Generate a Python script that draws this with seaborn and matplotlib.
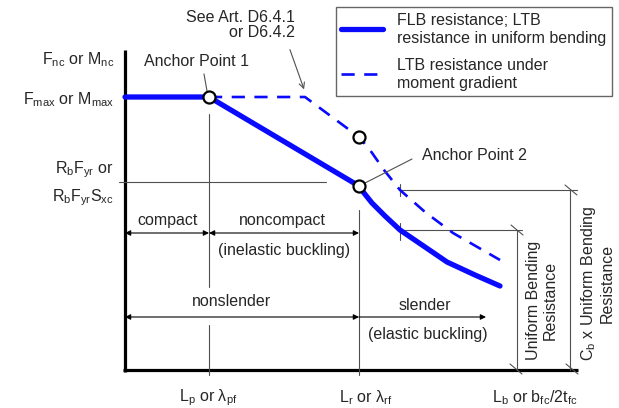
import numpy as np
import pandas as pd
import seaborn as sns
import matplotlib.pyplot as plt

# ==========================================
# DATA (schematic, in pixel-like units: x right, y down)
# ==========================================
# solid curve: FLB / LTB resistance in uniform bending
solid_x = [125, 209, 359, 364, 372, 385, 400, 425, 447, 475, 500]
solid_y = [97, 97, 186, 193, 203, 216, 230, 247, 262, 275, 286]

# dashed curve: LTB resistance under moment gradient
dashed_x = [209, 305, 359, 370, 384, 400, 425, 453, 500]
dashed_y = [97, 97, 137, 150, 170, 190, 212, 233, 260]

# anchor circles
anchor_x = [209, 359, 359]
anchor_y = [97, 186, 137]

legend_labels = ["FLB resistance; LTB\nresistance in uniform bending",
                 "LTB resistance under\nmoment gradient"]

y_labels = [r"F$_\mathregular{nc}$ or M$_\mathregular{nc}$",
            r"F$_\mathregular{max}$ or M$_\mathregular{max}$",
            r"R$_\mathregular{b}$F$_\mathregular{yr}$ or",
            r"R$_\mathregular{b}$F$_\mathregular{yr}$S$_\mathregular{xc}$"]
y_label_pos = [60, 100, 170, 198]

x_labels = [r"L$_\mathregular{p}$ or λ$_\mathregular{pf}$",
            r"L$_\mathregular{r}$ or λ$_\mathregular{rf}$",
            r"L$_\mathregular{b}$ or b$_\mathregular{fc}$/2t$_\mathregular{fc}$"]
x_label_pos = [208, 366, 535]

blue = "#0a0aff"
thin = "#505050"

# ==========================================
# STYLE
# ==========================================
sns.set_style("white")
plt.rcParams["font.family"] = ["Liberation Sans", "DejaVu Sans"]
plt.rcParams["mathtext.fontset"] = "custom"
plt.rcParams["mathtext.rm"] = "Liberation Sans"
plt.rcParams["mathtext.it"] = "Liberation Sans:italic"
fs = 11.5

fig = plt.figure(figsize=(6.19, 4.08), dpi=100)
ax = fig.add_axes([0, 0, 1, 1])
ax.set_xlim(0, 619)
ax.set_ylim(408, 0)
ax.axis("off")

# ==========================================
# AXES LINES
# ==========================================
ax.plot([125, 125], [50, 372], color="black", lw=2.3, solid_capstyle="butt")
ax.plot([123, 578], [370, 370], color="black", lw=2.3, solid_capstyle="butt")

# thin reference lines
ax.plot([119, 326], [182, 182], color=thin, lw=0.8)
ax.plot([209, 209], [114, 287], color=thin, lw=0.8)
ax.plot([209, 209], [325, 375], color=thin, lw=0.8)
ax.plot([359, 359], [210, 375], color=thin, lw=0.8)

# dimension lines on the right
ax.plot([400, 522], [230, 230], color=thin, lw=0.8)
ax.plot([400, 577], [190, 190], color=thin, lw=0.8)
ax.plot([517, 517], [230, 370], color=thin, lw=0.8)
ax.plot([570, 570], [190, 370], color=thin, lw=0.8)
for (cx, cy) in [(517, 230), (516, 369), (571, 190), (572, 369)]:
    ax.plot([cx - 6, cx + 6], [cy - 5, cy + 5], color=thin, lw=0.8)
ax.plot([400, 400], [184, 196], color=thin, lw=0.8)
ax.plot([400, 400], [223, 240], color=thin, lw=0.8)

# ==========================================
# CURVES
# ==========================================
df_solid = pd.DataFrame({"x": solid_x, "y": solid_y})
df_dash = pd.DataFrame({"x": dashed_x, "y": dashed_y})

sns.lineplot(data=df_solid, x="x", y="y", ax=ax, color=blue, lw=3.8,
             sort=False, estimator=None, label=legend_labels[0])
sns.lineplot(data=df_dash, x="x", y="y", ax=ax, color=blue, lw=1.9,
             sort=False, estimator=None, linestyle=(0, (5, 3.6)),
             label=legend_labels[1])
sns.scatterplot(x=anchor_x, y=anchor_y, ax=ax, s=75, color="white",
                edgecolor="black", linewidth=1.6, zorder=5)

curve_lines = [l for l in ax.lines if l.get_label() in legend_labels]
leg = ax.legend(handles=curve_lines, labels=legend_labels, loc="upper right",
                bbox_to_anchor=(612, 7), bbox_transform=ax.transData,
                fontsize=fs, frameon=True, fancybox=False, edgecolor="#666666",
                framealpha=1, handlelength=2.6, handletextpad=0.9,
                labelspacing=0.75, borderpad=0.35, borderaxespad=0)
for t in leg.get_texts():
    t.set_linespacing(1.25)

# ==========================================
# TEXT
# ==========================================
for lab, yy in zip(y_labels, y_label_pos):
    ax.text(114, yy, lab, ha="right", va="center", fontsize=fs)
for lab, xx in zip(x_labels, x_label_pos):
    ax.text(xx, 398, lab, ha="center", va="center", fontsize=fs)

ax.text(197, 62, "Anchor Point 1", ha="center", va="center", fontsize=fs)
ax.plot([204, 207], [74, 91], color=thin, lw=0.8)
ax.text(474, 155, "Anchor Point 2", ha="center", va="center", fontsize=fs)
ax.plot([412, 365], [159, 183], color=thin, lw=0.8)

ax.text(295, 25, "See Art. D6.4.1\nor D6.4.2", ha="right", va="center",
        fontsize=fs, linespacing=0.95)
ax.annotate("", xy=(305, 92), xytext=(289, 47),
            arrowprops=dict(arrowstyle="->", color=thin, lw=0.8))

# region arrows
arr = dict(arrowstyle="<|-|>", color="black", lw=0.8, mutation_scale=8,
           shrinkA=0, shrinkB=0)
ax.annotate("", xy=(125, 233), xytext=(209, 233), arrowprops=arr)
ax.annotate("", xy=(209, 233), xytext=(359, 233), arrowprops=arr)
ax.annotate("", xy=(125, 317), xytext=(359, 317), arrowprops=arr)
ax.annotate("", xy=(486, 317), xytext=(359, 317),
            arrowprops=dict(arr, arrowstyle="-|>"))

ax.text(168, 220, "compact", ha="center", va="center", fontsize=fs)
ax.text(282, 220, "noncompact", ha="center", va="center", fontsize=fs)
ax.text(284, 250, "(inelastic buckling)", ha="center", va="center", fontsize=fs)
ax.text(231, 302, "nonslender", ha="center", va="center", fontsize=fs)
ax.text(425, 305, "slender", ha="center", va="center", fontsize=fs)
ax.text(428, 335, "(elastic buckling)", ha="center", va="center", fontsize=fs)

ax.text(542, 300, "Uniform Bending\nResistance", rotation=90, ha="center",
        va="center", fontsize=fs, multialignment="center", linespacing=1.1)
ax.text(597, 283, r"C$_\mathregular{b}$ x Uniform Bending" + "\nResistance",
        rotation=90, ha="center", va="center", fontsize=fs,
        multialignment="center", linespacing=1.1)

plt.savefig("out.png", dpi=100)
